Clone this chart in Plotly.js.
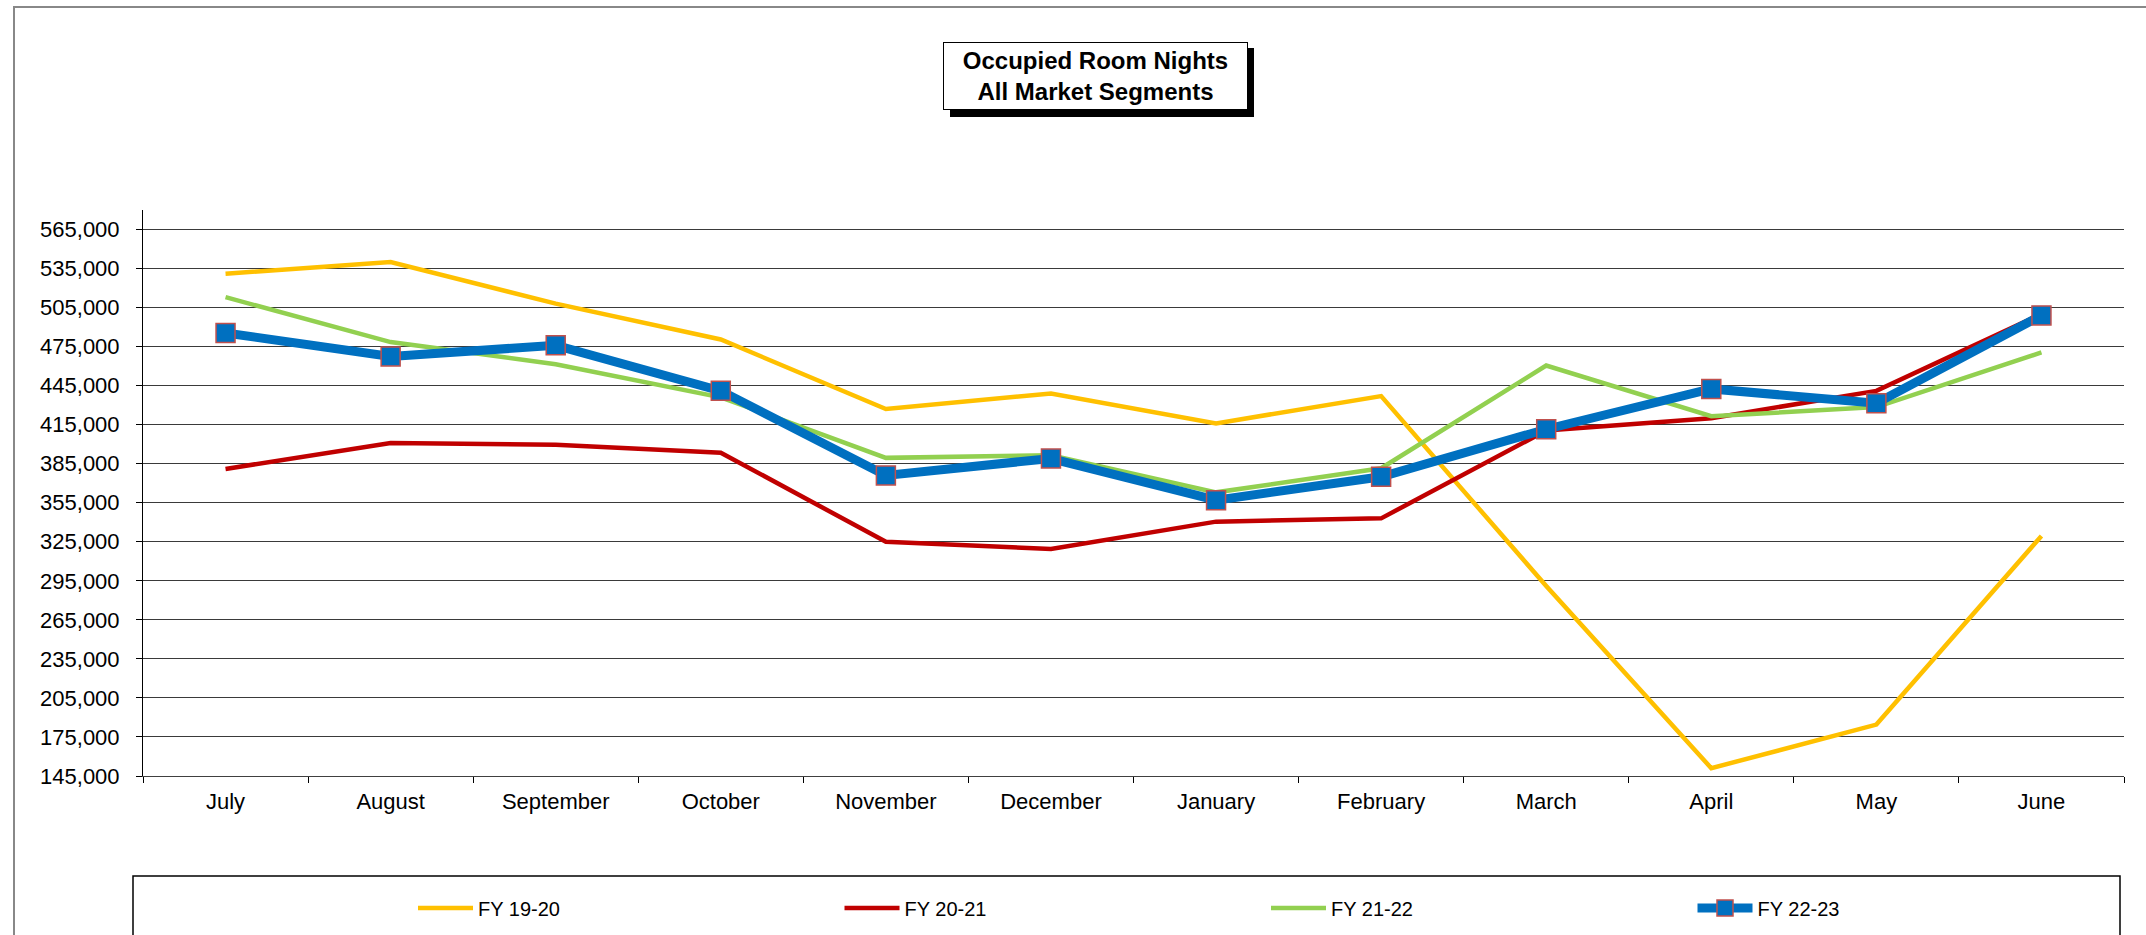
<!DOCTYPE html>
<html>
<head>
<meta charset="utf-8">
<script src="https://cdn.plot.ly/plotly-3.0.1.min.js"></script>
<style>
html, body { margin: 0; padding: 0; background: #ffffff; }
#chart { width: 2146px; height: 935px; }
</style>
</head>
<body>
<div id="chart"></div>
<script>
// ---- data ----
var months = ["July", "August", "September", "October", "November", "December",
              "January", "February", "March", "April", "May", "June"];
var seriesNames = ["FY 19-20", "FY 20-21", "FY 21-22", "FY 22-23"];
var fy1920 = [531000, 540000, 508000, 480500, 427000, 439000, 416000, 437000, 291000, 151000, 184500, 329500];
var fy2021 = [381000, 401000, 399500, 393500, 325000, 319500, 340500, 343000, 410500, 420000, 441000, 500000];
var fy2122 = [513000, 478500, 461500, 436000, 389500, 391500, 363000, 381500, 460500, 421500, 428500, 470500];
var fy2223 = [485500, 467500, 476000, 441000, 376000, 389000, 357000, 375000, 411500, 442500, 431500, 499000];
var titleLines = ["Occupied Room Nights", "All Market Segments"];

// ---- layout geometry (pixels) ----
var W = 2146, H = 935;
var M = { l: 143, r: 22, t: 210, b: 159, autoexpand: false };
var pw = W - M.l - M.r, ph = H - M.t - M.b;
function px(x) { return (x - M.l) / pw; }
function py(y) { return (H - M.b - y) / ph; }

var FONT = "Liberation Sans, Arial, sans-serif";

var traces = [
  { x: months, y: fy1920, name: seriesNames[0], type: "scatter", mode: "lines",
    line: { color: "#FFC000", width: 4.5 } },
  { x: months, y: fy2021, name: seriesNames[1], type: "scatter", mode: "lines",
    line: { color: "#C00000", width: 4.5 } },
  { x: months, y: fy2122, name: seriesNames[2], type: "scatter", mode: "lines",
    line: { color: "#92D050", width: 4.5 } },
  { x: months, y: fy2223, name: seriesNames[3], type: "scatter", mode: "lines+markers",
    line: { color: "#0070C0", width: 9 },
    marker: { symbol: "square", size: 19, color: "#0070C0", line: { color: "#C0504D", width: 1.5 } } }
];

var layout = {
  width: W, height: H,
  margin: M,
  paper_bgcolor: "#ffffff",
  plot_bgcolor: "#ffffff",
  font: { family: FONT, size: 20, color: "#000000" },
  showlegend: true,
  legend: {
    orientation: "h",
    x: px(413), xanchor: "left",
    y: py(908), yanchor: "middle",
    bgcolor: "rgba(0,0,0,0)",
    borderwidth: 0,
    entrywidth: 356.5,
    entrywidthmode: "pixels",
    itemwidth: 55,
    font: { family: FONT, size: 20, color: "#000000" },
    tracegroupgap: 0
  },
  xaxis: {
    type: "category",
    range: [-0.5, 11.5],
    autorange: false,
    tickson: "boundaries",
    ticks: "outside", ticklen: 6, tickcolor: "#000000", tickwidth: 1,
    showline: true, linecolor: "#404040", linewidth: 1,
    showgrid: false, zeroline: false,
    tickfont: { family: FONT, size: 22, color: "#000000" },
    ticklabelstandoff: 6,
    automargin: false,
    fixedrange: true
  },
  yaxis: {
    range: [145000, 580000],
    autorange: false,
    tick0: 145000, dtick: 30000,
    tickformat: ",d",
    ticks: "outside", ticklen: 6, tickcolor: "#000000", tickwidth: 1,
    showline: true, linecolor: "#000000", linewidth: 1,
    showgrid: true, gridcolor: "#3a3a3a", gridwidth: 1,
    zeroline: false,
    tickfont: { family: FONT, size: 22, color: "#000000" },
    ticklabelstandoff: 12,
    automargin: false,
    fixedrange: true
  },
  shapes: [
    // outer chart border
    { type: "rect", xref: "paper", yref: "paper", layer: "below",
      x0: px(14), x1: px(2160), y0: py(950), y1: py(7),
      line: { color: "#888888", width: 2 }, fillcolor: "rgba(0,0,0,0)" },
    // legend box
    { type: "rect", xref: "paper", yref: "paper", layer: "below",
      x0: px(133), x1: px(2120), y0: py(960), y1: py(876),
      line: { color: "#000000", width: 1.5 }, fillcolor: "rgba(0,0,0,0)" },
    // title shadow
    { type: "rect", xref: "paper", yref: "paper", layer: "above",
      x0: px(950), x1: px(1254), y0: py(117), y1: py(48),
      line: { width: 0 }, fillcolor: "#000000" }
  ],
  annotations: [
    { xref: "paper", yref: "paper",
      x: px(1095.5), y: py(76), xanchor: "center", yanchor: "middle",
      text: "<b>" + titleLines[0] + "</b><br><b>" + titleLines[1] + "</b>",
      showarrow: false,
      font: { family: FONT, size: 24, color: "#000000" },
      align: "center",
      bgcolor: "#ffffff", bordercolor: "#000000", borderwidth: 1, borderpad: 2,
      width: 299, height: 62 }
  ]
};

Plotly.newPlot("chart", traces, layout, { displayModeBar: false, staticPlot: true });
</script>
</body>
</html>
